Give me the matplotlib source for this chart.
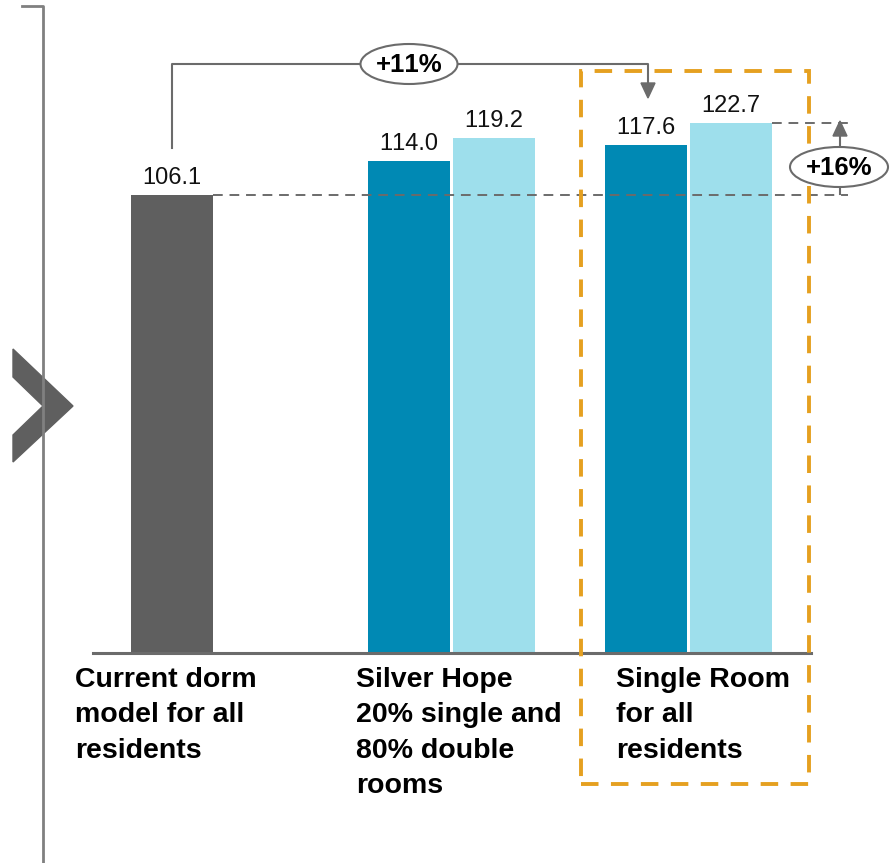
import matplotlib.pyplot as plt
from matplotlib.patches import Ellipse, Polygon, Rectangle
from matplotlib.lines import Line2D

plt.rcParams['font.family'] = ['Liberation Sans', 'DejaVu Sans']
# switch off kerning so "114.0" does not squeeze its ones
plt.rcParams['text.kerning_factor'] = 12

categories = ['Current dorm\nmodel for all\nresidents',
              'Silver Hope\n20% single and\n80% double\nrooms',
              'Single Room\nfor all\nresidents']
dark_values = [106.1, 114.0, 117.6]
light_values = [None, 119.2, 122.7]
change_labels = ['+11%', '+16%']

W, H = 891, 863
fig = plt.figure(figsize=(W / 100, H / 100), dpi=100)


def fx(x):
    return x / W


def fy(y):
    return 1 - y / H


# axes: baseline at y=653px, spans x 93..811
ax = fig.add_axes([fx(93), fy(653), fx(811) - fx(93), 653 / H])
ax.set_ylim(0, 653 / 4.32)
x0 = 214.5
unit = 237.0
ax.set_xlim((93 - x0) / unit, (811 - x0) / unit)
ax.axis('off')

grey = '#5f5f5f'
dark = '#0089b4'
light = '#9edfec'
line_grey = '#6b6b6b'
orange = '#e5a020'

off = 42.5 / unit
bw = 82 / unit
for i, v in enumerate(dark_values):
    c = grey if i == 0 else dark
    ax.bar(i - off, v, width=bw, color=c, zorder=2)
    ax.text(i - off, v + 2.5, f'{v:.1f}', ha='center', va='baseline',
            fontsize=17, color='#111111')
for i, v in enumerate(light_values):
    if v is None:
        continue
    ax.bar(i + off, v, width=bw, color=light, zorder=2)
    ax.text(i + off, v + 2.5, f'{v:.1f}', ha='center', va='baseline',
            fontsize=17, color='#111111')

# baseline
ax.axhline(0, color=line_grey, lw=2.2, zorder=3, clip_on=False)

# dashed reference lines (drawn over the bars)
xr = (848 - x0) / unit
ax.plot([0 - off + bw / 2, xr], [dark_values[0]] * 2, color=line_grey,
        lw=1.4, ls=(0, (5, 3.5)), clip_on=False, zorder=4)
ax.plot([2 + off + bw / 2, xr], [light_values[2]] * 2, color=line_grey,
        lw=1.4, ls=(0, (5, 3.5)), clip_on=False, zorder=4)

# category labels
label_x = [75, 356, 616]
for lx, lab in zip(label_x, categories):
    fig.text(fx(lx), fy(667), lab, ha='left', va='top', fontsize=20.5,
             fontweight='bold', linespacing=1.47)

# +11% connector
fig.add_artist(Line2D([fx(172), fx(172), fx(648), fx(648)],
                      [fy(148), fy(64), fy(64), fy(84)],
                      color=line_grey, lw=1.5, zorder=6))
fig.add_artist(Polygon([[fx(641), fy(83)], [fx(655), fy(83)], [fx(648), fy(98)]],
                       closed=True, color=line_grey, zorder=6))
fig.add_artist(Ellipse((fx(409), fy(64)), 97 / W, 40 / H, facecolor='white',
                       edgecolor=line_grey, lw=1.5, zorder=7))
fig.text(fx(409), fy(65), change_labels[0], ha='center', va='center',
         fontsize=18.5, fontweight='bold', zorder=8)

# +16% arrow
fig.add_artist(Line2D([fx(840), fx(840)], [fy(194), fy(134)],
                      color=line_grey, lw=1.5, zorder=6))
fig.add_artist(Polygon([[fx(833), fy(136)], [fx(847), fy(136)], [fx(840), fy(121)]],
                       closed=True, color=line_grey, zorder=6))
fig.add_artist(Ellipse((fx(839), fy(167)), 98 / W, 40 / H, facecolor='white',
                       edgecolor=line_grey, lw=1.5, zorder=7))
fig.text(fx(839), fy(168), change_labels[1], ha='center', va='center',
         fontsize=18.5, fontweight='bold', zorder=8)

# orange highlight box
fig.add_artist(Rectangle((fx(581), fy(784)), fx(809) - fx(581), (784 - 71) / H,
                         fill=False, edgecolor=orange, lw=2.8,
                         ls=(0, (4.5, 3.2)), zorder=5))

# left bracket and chevron
fig.add_artist(Line2D([fx(22), fx(43), fx(43)], [fy(6), fy(6), fy(863)],
                      color='#808080', lw=2))
fig.add_artist(Polygon([[fx(13), fy(349)], [fx(73), fy(406)], [fx(13), fy(462)],
                        [fx(13), fy(435)], [fx(43), fy(406)], [fx(13), fy(377)]],
                       closed=True, color=grey))

fig.savefig('out.png', dpi=100)
